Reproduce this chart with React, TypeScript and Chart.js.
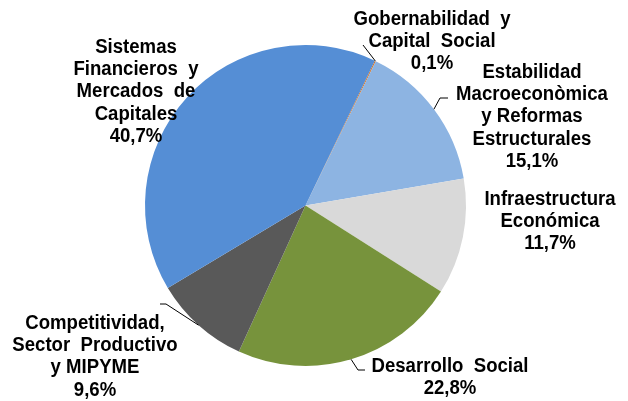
import React, { useEffect, useRef } from "react";
import { Chart, registerables } from "chart.js";

Chart.register(...registerables);

const categories = [
  "Gobernabilidad y Capital Social",
  "Estabilidad Macroeconòmica y Reformas Estructurales",
  "Infraestructura Económica",
  "Desarrollo Social",
  "Competitividad, Sector Productivo y MIPYME",
  "Sistemas Financieros y Mercados de Capitales",
];
const values = [0.1, 15.1, 11.7, 22.8, 9.6, 40.7];
const percentLabels = ["0,1%", "15,1%", "11,7%", "22,8%", "9,6%", "40,7%"];
const labelLines = [
  ["Gobernabilidad  y", "Capital  Social"],
  ["Estabilidad", "Macroeconòmica", "y Reformas", "Estructurales"],
  ["Infraestructura", "Económica"],
  ["Desarrollo  Social"],
  ["Competitividad,", "Sector  Productivo", "y MIPYME"],
  ["Sistemas", "Financieros  y", "Mercados  de", "Capitales"],
];
const colors = ["#E46C0A", "#8DB4E2", "#D9D9D9", "#77933C", "#595959", "#558ED5"];

// label layout: text centre x, first line centre y, leader bend + end (null = no leader)
const labelLayout = [
  { x: 432, y: 18, leader: [[363, 45]] },
  { x: 532, y: 71, leader: [[440, 98], [448, 98]] },
  { x: 550, y: 198, leader: null },
  { x: 450, y: 365, leader: [[358, 370], [365, 370]] },
  { x: 95, y: 322, leader: [[166, 304], [160, 304]] },
  { x: 136, y: 46, leader: null },
];

const labelPlugin = {
  id: "pieLabels",
  afterDatasetsDraw(chart: any) {
    const ctx = chart.ctx;
    const meta = chart.getDatasetMeta(0);
    ctx.save();
    meta.data.forEach((arc: any, i: number) => {
      const lay = labelLayout[i];
      const { x, y, startAngle, endAngle, outerRadius } = arc.getProps(
        ["x", "y", "startAngle", "endAngle", "outerRadius"],
        true
      );
      if (lay.leader) {
        const mid = (startAngle + endAngle) / 2;
        ctx.beginPath();
        ctx.strokeStyle = "#000000";
        ctx.lineWidth = 1;
        ctx.moveTo(x + Math.cos(mid) * outerRadius, y + Math.sin(mid) * outerRadius);
        lay.leader.forEach((p: number[]) => ctx.lineTo(p[0], p[1]));
        ctx.stroke();
      }
      const lines = [...labelLines[i], percentLabels[i]];
      ctx.fillStyle = "#000000";
      ctx.font = 'bold 18.6px "Liberation Sans", Arial, sans-serif';
      ctx.textAlign = "center";
      ctx.textBaseline = "middle";
      lines.forEach((line: string, k: number) => {
        ctx.save();
        ctx.translate(lay.x, lay.y + k * 22.3);
        ctx.scale(1, 1.1);
        ctx.fillText(line, 0, 1);
        ctx.restore();
      });
    });
    ctx.restore();
  },
};

export default function App() {
  const ref = useRef<HTMLCanvasElement>(null);
  useEffect(() => {
    if (!ref.current) return;
    const chart = new Chart(ref.current, {
      type: "pie",
      data: {
        labels: categories,
        datasets: [
          {
            data: values,
            backgroundColor: colors,
            borderWidth: 0,
          },
        ],
      },
      options: {
        responsive: false,
        animation: false,
        rotation: 25.6,
        layout: { padding: { left: 145, right: 162, top: 45, bottom: 35 } },
        plugins: {
          legend: { display: false },
          tooltip: { enabled: false },
        },
      },
      plugins: [labelPlugin],
    });
    return () => chart.destroy();
  }, []);
  return (
    <div style={{ position: "fixed", left: 0, top: 0, width: 628, height: 401, background: "#ffffff" }}>
      <canvas ref={ref} width={628} height={401} />
    </div>
  );
}
